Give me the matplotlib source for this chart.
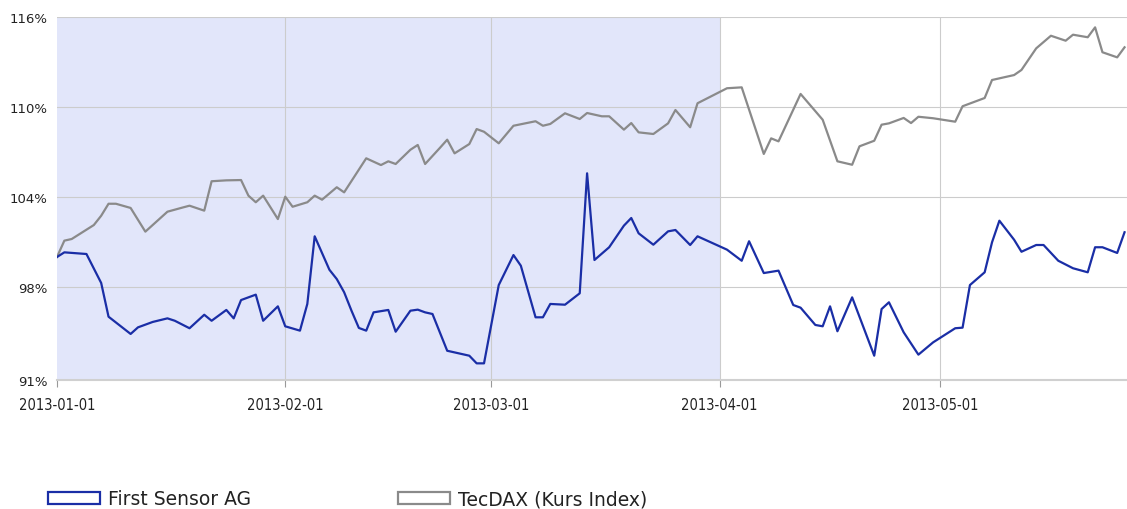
import pandas as pd
from matplotlib import pyplot as plt
from matplotlib.patches import Patch
import matplotlib.dates as mdates

# First Sensor AG vs TecDAX, relative performance in percent
sensor_dates = [
    "2013-01-01", "2013-01-02", "2013-01-05", "2013-01-07", "2013-01-08", "2013-01-11",
    "2013-01-12", "2013-01-14", "2013-01-16", "2013-01-17", "2013-01-19", "2013-01-21",
    "2013-01-22", "2013-01-24", "2013-01-25", "2013-01-26", "2013-01-28", "2013-01-29",
    "2013-01-31",
    "2013-02-01", "2013-02-03", "2013-02-04", "2013-02-05", "2013-02-07", "2013-02-08",
    "2013-02-09", "2013-02-10", "2013-02-11", "2013-02-12", "2013-02-13", "2013-02-15",
    "2013-02-16", "2013-02-18", "2013-02-19", "2013-02-20", "2013-02-21", "2013-02-23",
    "2013-02-26", "2013-02-27", "2013-02-28",
    "2013-03-02", "2013-03-04", "2013-03-05", "2013-03-07", "2013-03-08", "2013-03-09",
    "2013-03-11", "2013-03-13", "2013-03-14", "2013-03-15", "2013-03-17", "2013-03-19",
    "2013-03-20", "2013-03-21", "2013-03-23", "2013-03-25", "2013-03-26", "2013-03-28",
    "2013-03-29",
    "2013-04-02", "2013-04-04", "2013-04-05", "2013-04-07", "2013-04-09", "2013-04-11",
    "2013-04-12", "2013-04-14", "2013-04-15", "2013-04-16", "2013-04-17", "2013-04-19",
    "2013-04-22", "2013-04-23", "2013-04-24", "2013-04-26", "2013-04-28", "2013-04-30",
    "2013-05-03", "2013-05-04", "2013-05-05", "2013-05-07", "2013-05-08", "2013-05-09",
    "2013-05-11", "2013-05-12", "2013-05-14", "2013-05-15", "2013-05-17", "2013-05-19",
    "2013-05-21", "2013-05-22", "2013-05-23", "2013-05-25", "2013-05-26",
]
sensor_values = [
    100.0, 100.31, 100.2, 98.27, 96.02, 94.87, 95.31, 95.67, 95.91, 95.75, 95.25, 96.15,
    95.75, 96.47, 95.91, 97.13, 97.49, 95.75, 96.71,
    95.38, 95.09, 96.87, 101.38, 99.15, 98.53, 97.65, 96.42, 95.27, 95.09, 96.31, 96.47,
    95.02, 96.42, 96.49, 96.31, 96.2, 93.75, 93.42, 92.91, 92.91,
    98.13, 100.13, 99.42, 95.98, 95.98, 96.87, 96.82, 97.58, 105.58, 99.8, 100.65, 102.09,
    102.6, 101.58, 100.82, 101.71, 101.8, 100.8, 101.38,
    100.49, 99.75, 101.05, 98.93, 99.09, 96.8, 96.62, 95.47, 95.38, 96.71, 95.05, 97.31,
    93.42, 96.53, 96.98, 94.98, 93.49, 94.31,
    95.25, 95.29, 98.13, 98.98, 100.98, 102.42, 101.15, 100.35, 100.8, 100.8, 99.75, 99.25,
    98.98, 100.65, 100.65, 100.27, 101.65,
]

tecdax_dates = [
    "2013-01-01", "2013-01-02", "2013-01-03", "2013-01-06", "2013-01-07", "2013-01-08",
    "2013-01-09", "2013-01-11", "2013-01-13", "2013-01-16", "2013-01-18", "2013-01-19",
    "2013-01-21", "2013-01-22", "2013-01-24", "2013-01-26", "2013-01-27", "2013-01-28",
    "2013-01-29", "2013-01-31",
    "2013-02-01", "2013-02-02", "2013-02-04", "2013-02-05", "2013-02-06", "2013-02-08",
    "2013-02-09", "2013-02-12", "2013-02-14", "2013-02-15", "2013-02-16", "2013-02-18",
    "2013-02-19", "2013-02-20", "2013-02-22", "2013-02-23", "2013-02-24", "2013-02-26",
    "2013-02-27", "2013-02-28",
    "2013-03-02", "2013-03-04", "2013-03-07", "2013-03-08", "2013-03-09", "2013-03-11",
    "2013-03-13", "2013-03-14", "2013-03-16", "2013-03-17", "2013-03-19", "2013-03-20",
    "2013-03-21", "2013-03-23", "2013-03-25", "2013-03-26", "2013-03-28", "2013-03-29",
    "2013-04-02", "2013-04-04", "2013-04-07", "2013-04-08", "2013-04-09", "2013-04-12",
    "2013-04-15", "2013-04-17", "2013-04-19", "2013-04-20", "2013-04-22", "2013-04-23",
    "2013-04-24", "2013-04-26", "2013-04-27", "2013-04-28", "2013-04-30",
    "2013-05-03", "2013-05-04", "2013-05-07", "2013-05-08", "2013-05-11", "2013-05-12",
    "2013-05-14", "2013-05-16", "2013-05-18", "2013-05-19", "2013-05-21", "2013-05-22",
    "2013-05-23", "2013-05-25", "2013-05-26",
]
tecdax_values = [
    100.0, 101.09, 101.2, 102.13, 102.75, 103.55, 103.55, 103.27, 101.69, 103.02, 103.29,
    103.42, 103.09, 105.05, 105.11, 105.13, 104.09, 103.65, 104.09, 102.53,
    104.02, 103.35, 103.65, 104.09, 103.82, 104.65, 104.31, 106.58, 106.13, 106.38, 106.2,
    107.15, 107.47, 106.2, 107.27, 107.82, 106.91, 107.53, 108.53, 108.35,
    107.58, 108.75, 109.05, 108.75, 108.87, 109.58, 109.2, 109.6, 109.38, 109.38, 108.49,
    108.93, 108.31, 108.2, 108.91, 109.8, 108.65, 110.25,
    111.25, 111.31, 106.87, 107.91, 107.71, 110.87, 109.15, 106.38, 106.15, 107.38, 107.75,
    108.82, 108.91, 109.27, 108.93, 109.35, 109.25,
    109.02, 110.05, 110.6, 111.8, 112.13, 112.47, 113.91, 114.75, 114.42, 114.82, 114.65,
    115.31, 113.65, 113.31, 113.98,
]

series_names = ["First Sensor AG", "TecDAX (Kurs Index)"]
x_ticks = ["2013-01-01", "2013-02-01", "2013-03-01", "2013-04-01", "2013-05-01"]
y_ticks = [91.8, 98, 104, 110, 116]
y_tick_labels = ["91%", "98%", "104%", "110%", "116%"]
highlight_start, highlight_end = "2013-01-01", "2013-04-01"

blue = "#1a2ea6"
grey = "#8a8a8a"

fig = plt.figure(figsize=(11.27, 5.1), dpi=100)
ax = fig.add_axes([57 / 1127, 1 - 381 / 510, 1 - 57 / 1127, (381 - 18) / 510])

ax.axvspan(pd.Timestamp(highlight_start), pd.Timestamp(highlight_end),
           color="#e2e6fa", zorder=0, lw=0)
ax.plot(pd.to_datetime(tecdax_dates), tecdax_values, color=grey, lw=1.6, zorder=3)
ax.plot(pd.to_datetime(sensor_dates), sensor_values, color=blue, lw=1.6, zorder=4)

ax.set_xlim(pd.Timestamp("2013-01-01"), pd.Timestamp("2013-05-26 08:00"))
ax.set_ylim(91.8, 116)

ax.set_xticks(pd.to_datetime(x_ticks))
ax.xaxis.set_major_formatter(mdates.DateFormatter("%Y-%m-%d"))
ax.set_yticks(y_ticks)
ax.set_yticklabels(y_tick_labels)

ax.grid(True, color="#cccccc", lw=0.8, zorder=1)
ax.set_axisbelow(True)
ax.xaxis.get_gridlines()[0].set_visible(False)

for side in ["top", "right", "left"]:
    ax.spines[side].set_visible(False)
ax.spines["bottom"].set_color("#d0d0d0")
ax.spines["bottom"].set_linewidth(1.5)

ax.tick_params(axis="x", length=5, color="#999999", pad=7, labelsize=10.5,
               labelcolor="#222222")
ax.tick_params(axis="y", length=0, pad=7, labelsize=9.5, labelcolor="#222222")
for lbl in ax.get_xticklabels():
    lbl.set_fontstretch("condensed")

for name, color, xpos in zip(series_names, [blue, grey], [48, 398]):
    handle = Patch(facecolor="white", edgecolor=color, linewidth=1.6)
    fig.legend(handles=[handle], labels=[name], loc="center left",
               bbox_to_anchor=(xpos / 1127, 1 - 500 / 510), frameon=False,
               borderpad=0, borderaxespad=0, fontsize=13.5, handlelength=2.78,
               handleheight=0.62, handletextpad=0.4, labelcolor="#222222")

plt.savefig("out.png", dpi=100)
